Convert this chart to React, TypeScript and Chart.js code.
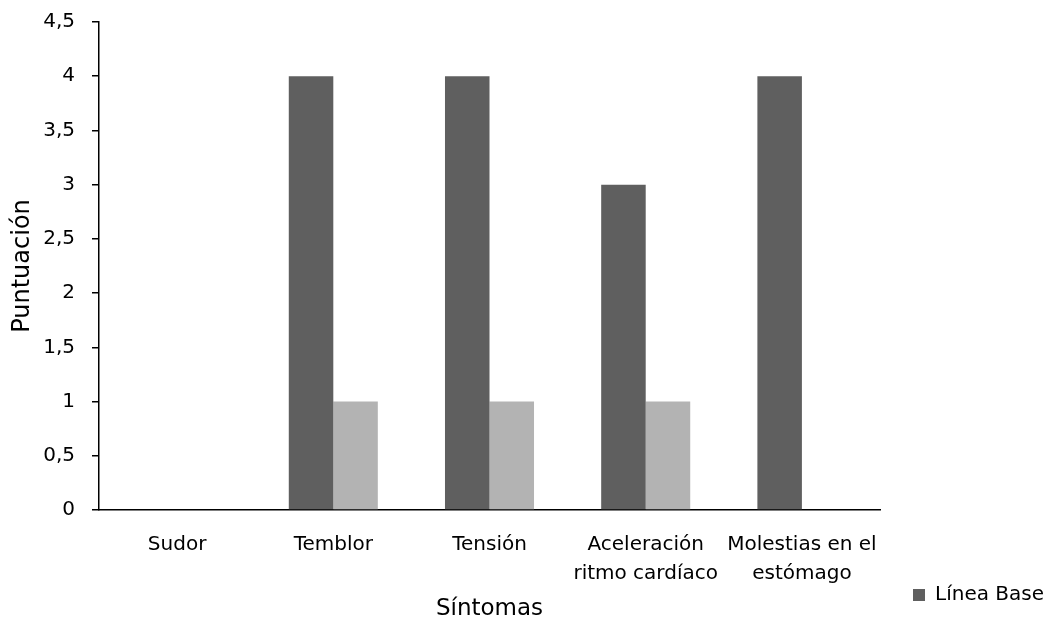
import React, { useEffect, useRef } from "react";
import { Chart, registerables } from "chart.js";

Chart.register(...registerables);

const categories: (string | string[])[] = [
  "Sudor",
  "Temblor",
  "Tensión",
  ["Aceleración", "ritmo cardíaco"],
  ["Molestias en el", "estómago"],
];
const lineaBase = [0, 4, 4, 3, 4];
const serie2 = [0, 1, 1, 1, 0];
const yTicks = [0, 0.5, 1, 1.5, 2, 2.5, 3, 3.5, 4, 4.5];

const FONT = "'DejaVu Sans', sans-serif";

export default function App() {
  const ref = useRef<HTMLCanvasElement | null>(null);
  useEffect(() => {
    if (!ref.current) return;
    const chart = new Chart(ref.current, {
      type: "bar",
      data: {
        labels: categories,
        datasets: [
          {
            label: "Línea Base",
            data: lineaBase,
            backgroundColor: "#5f5f5f",
            categoryPercentage: 0.57,
            barPercentage: 1,
          },
          {
            label: "Post",
            data: serie2,
            backgroundColor: "#b3b3b3",
            categoryPercentage: 0.57,
            barPercentage: 1,
          },
        ],
      },
      options: {
        animation: false,
        responsive: true,
        maintainAspectRatio: false,
        layout: { padding: { top: 22, left: 0, right: 0, bottom: 0 } },
        plugins: {
          tooltip: { enabled: false },
          legend: {
            position: "right",
            align: "end",
            labels: {
              filter: (item) => item.datasetIndex === 0,
              boxWidth: 12,
              boxHeight: 12,
              padding: 14,
              color: "#000",
              font: { family: FONT, size: 20 },
            },
          },
        },
        scales: {
          x: {
            afterFit: (s) => {
              s.height = 109;
            },
            grid: { display: false, tickLength: 0 },
            border: { display: true, color: "#000", width: 1.5 },
            ticks: {
              color: "#000",
              font: { family: FONT, size: 20, lineHeight: 1.45 },
              padding: 20,
              maxRotation: 0,
              autoSkip: false,
            },
            title: {
              display: true,
              text: "Síntomas",
              color: "#000",
              font: { family: FONT, size: 23 },
              padding: { top: 0, bottom: -4 },
            },
          },
          y: {
            min: 0,
            max: 4.5,
            afterFit: (s) => {
              s.width = 99;
              s.paddingTop = 0;
              s.paddingBottom = 0;
            },
            afterBuildTicks: (axis) => {
              axis.ticks = yTicks.map((v) => ({ value: v }));
            },
            grid: {
              display: true,
              drawOnChartArea: false,
              drawTicks: true,
              tickLength: 7,
              color: "#000",
              lineWidth: 1.5,
            },
            border: { display: true, color: "#000", width: 1.5 },
            ticks: {
              color: "#000",
              font: { family: FONT, size: 20 },
              padding: 17,
              callback: (v) => String(v).replace(".", ","),
            },
            title: {
              display: true,
              text: "Puntuación",
              color: "#000",
              font: { family: FONT, size: 24 },
              padding: { top: 8, bottom: 0 },
            },
          },
          y2: {
            position: "right",
            display: true,
            afterFit: (s) => {
              s.width = 19;
              s.paddingTop = 0;
              s.paddingBottom = 0;
            },
            grid: { display: false },
            border: { display: false },
            ticks: { display: false },
          },
        },
      },
    });
    return () => chart.destroy();
  }, []);
  return (
    <div style={{ position: "fixed", left: 0, top: 0, width: 1054, height: 619, background: "#fff" }}>
      <canvas ref={ref} />
    </div>
  );
}
